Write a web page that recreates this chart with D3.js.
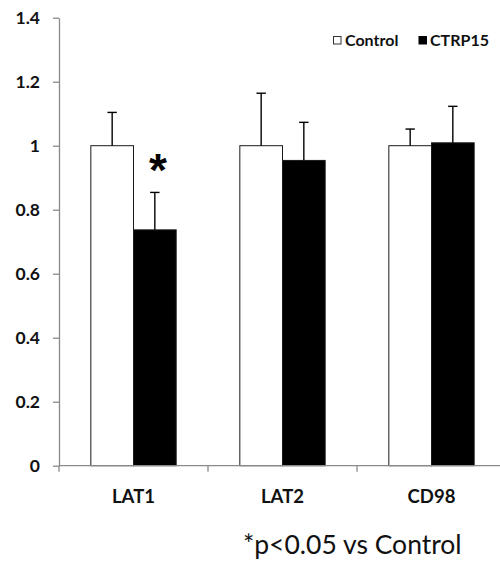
<!DOCTYPE html>
<html>
<head>
<meta charset="utf-8">
<script src="https://cdn.jsdelivr.net/npm/d3@7"></script>
<style>
  html, body { margin: 0; padding: 0; background: #fff; }
  svg { display: block; }
</style>
</head>
<body>
<svg id="chart" width="500" height="562"></svg>
<script>
// ---- data ----
const categories = ["LAT1", "LAT2", "CD98"];
const series = ["Control", "CTRP15"];
const controlValues = [1.0, 1.0, 1.0];
const ctrpValues = [0.737, 0.954, 1.009];
const controlErrors = [0.104, 0.164, 0.052];
const ctrpErrors = [0.117, 0.119, 0.114];
const significance = ["*", "", ""];
const yTicks = [0, 0.2, 0.4, 0.6, 0.8, 1.0, 1.2, 1.4];
const yTickLabels = ["0", "0.2", "0.4", "0.6", "0.8", "1", "1.2", "1.4"];
const footnote = "*p<0.05 vs Control";

const rows = categories.map((c, i) => ({
  category: c,
  sig: significance[i],
  bars: [
    { series: series[0], value: controlValues[i], err: controlErrors[i] },
    { series: series[1], value: ctrpValues[i], err: ctrpErrors[i] }
  ]
}));

// ---- layout ----
const svg = d3.select("#chart");
const axisColor = "#8a8a8a";
const fontFam = "Lato, 'Open Sans', sans-serif";

const y = d3.scaleLinear().domain([0, 1.4]).range([465.7, 17.7]);
const x = d3.scaleBand().domain(categories).range([59, 506]).padding(0);
const xs = d3.scaleBand().domain(series).range([0, x.bandwidth()])
  .paddingInner(0).paddingOuter(0.746);
const fills = { "Control": "#ffffff", "CTRP15": "#000000" };

// ---- y axis ----
const yAxis = d3.axisLeft(y)
  .tickValues(yTicks)
  .tickFormat((d, i) => yTickLabels[i])
  .tickSize(6)
  .tickSizeOuter(0)
  .tickPadding(13);
const gy = svg.append("g").attr("transform", "translate(59,0)").call(yAxis);
gy.select(".domain").attr("stroke", axisColor).attr("stroke-width", 1.3);
gy.selectAll(".tick line").attr("stroke", axisColor).attr("stroke-width", 1.3);
gy.selectAll(".tick text")
  .attr("fill", "#111")
  .style("font-family", fontFam)
  .style("font-weight", "bold")
  .style("font-size", "17.5px");

// ---- bars ----
const groups = svg.append("g").selectAll("g.cat")
  .data(rows).join("g")
  .attr("class", "cat")
  .attr("transform", d => `translate(${x(d.category)},0)`);

groups.selectAll("rect")
  .data(d => d.bars).join("rect")
  .attr("x", d => xs(d.series))
  .attr("width", xs.bandwidth())
  .attr("y", d => y(d.value))
  .attr("height", d => y(0) - y(d.value))
  .attr("fill", d => fills[d.series])
  .attr("stroke", "#1a1a1a")
  .attr("stroke-width", 1);

// error bars
const capHalf = 4.7;
const eb = groups.selectAll("g.err").data(d => d.bars).join("g").attr("class", "err");
eb.append("line")
  .attr("x1", d => xs(d.series) + xs.bandwidth() / 2)
  .attr("x2", d => xs(d.series) + xs.bandwidth() / 2)
  .attr("y1", d => y(d.value))
  .attr("y2", d => y(d.value + d.err))
  .attr("stroke", "#000").attr("stroke-width", 1.4);
eb.append("line")
  .attr("x1", d => xs(d.series) + xs.bandwidth() / 2 - capHalf)
  .attr("x2", d => xs(d.series) + xs.bandwidth() / 2 + capHalf)
  .attr("y1", d => y(d.value + d.err))
  .attr("y2", d => y(d.value + d.err))
  .attr("stroke", "#000").attr("stroke-width", 1.4);

// significance markers
groups.append("text")
  .text(d => d.sig)
  .attr("x", d => xs(series[1]) + xs.bandwidth() / 2 + 3)
  .attr("y", d => y(d.bars[1].value + d.bars[1].err) - 6)
  .attr("text-anchor", "middle")
  .style("font-family", "'Liberation Sans', Arial, sans-serif")
  .style("font-weight", "bold")
  .style("font-size", "46px")
  .attr("fill", "#000");

// ---- x axis ----
const gx = svg.append("g");
gx.append("line")
  .attr("x1", x.range()[0]).attr("x2", x.range()[1])
  .attr("y1", y(0)).attr("y2", y(0))
  .attr("stroke", axisColor).attr("stroke-width", 1.3);
const boundaries = categories.map(c => x(c)).concat([x.range()[1]]);
gx.selectAll("line.tick").data(boundaries).join("line")
  .attr("class", "tick")
  .attr("x1", d => d).attr("x2", d => d)
  .attr("y1", y(0)).attr("y2", y(0) + 6)
  .attr("stroke", axisColor).attr("stroke-width", 1.3);
gx.selectAll("text").data(categories).join("text")
  .text(d => d)
  .attr("x", d => x(d) + x.bandwidth() / 2)
  .attr("y", 502.5)
  .attr("text-anchor", "middle")
  .attr("fill", "#111")
  .style("font-family", fontFam)
  .style("font-weight", "bold")
  .style("font-size", "18.5px");

// ---- legend ----
const legend = svg.append("g");
const legendItems = [
  { name: series[0], box: 333, text: 345 },
  { name: series[1], box: 418.5, text: 430 }
];
legend.selectAll("rect").data(legendItems).join("rect")
  .attr("x", d => d.box + 0.5).attr("y", 36.5)
  .attr("width", 7.5).attr("height", 7.5)
  .attr("fill", d => fills[d.name])
  .attr("stroke", d => d.name === "Control" ? "#333" : "#000")
  .attr("stroke-width", 1);
legend.selectAll("text").data(legendItems).join("text")
  .text(d => d.name)
  .attr("x", d => d.text)
  .attr("y", 46)
  .attr("fill", "#111")
  .style("font-family", fontFam)
  .style("font-weight", "bold")
  .style("font-size", "16px");

// ---- footnote ----
svg.append("text")
  .text(footnote)
  .attr("x", 243)
  .attr("y", 554)
  .attr("fill", "#111")
  .style("font-family", fontFam)
  .style("font-size", "26.5px");
</script>
</body>
</html>
